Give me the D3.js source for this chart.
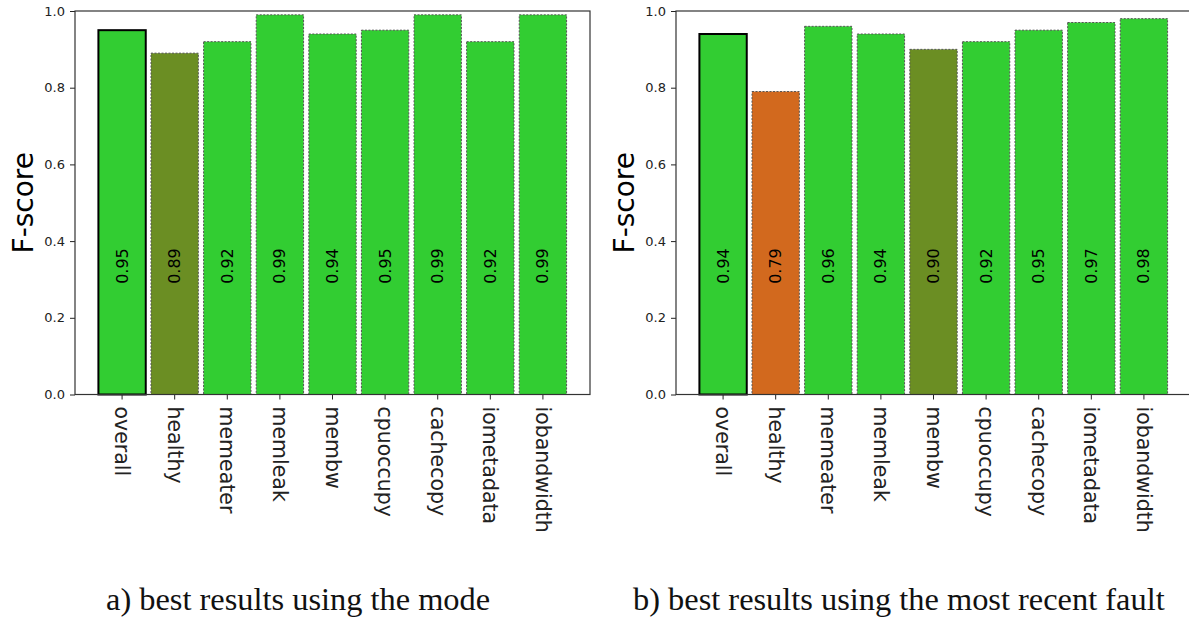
<!DOCTYPE html>
<html lang="en">
<head>
    <meta charset="UTF-8">
    <title>F-score per fault type</title>
    <script src="https://d3js.org/d3.v7.min.js"></script>
    <style>
        body { margin: 0; background: #fff; overflow: hidden; }
        svg { display: block; }
        .tick text { font-family: "DejaVu Sans", sans-serif; fill: #222; }
        .caption { font-family: "Liberation Serif", "DejaVu Serif", serif; font-size: 32.4px; fill: #111; }
    </style>
</head>
<body>
<div id="chart"></div>
<script>
    // categories on the x axis (same for both panels)
    const categories = ["overall", "healthy", "memeater", "memleak", "membw",
                        "cpuoccupy", "cachecopy", "iometadata", "iobandwidth"];

    // F-score values
    const modeScores   = [0.95, 0.89, 0.92, 0.99, 0.94, 0.95, 0.99, 0.92, 0.99];
    const recentScores = [0.94, 0.79, 0.96, 0.94, 0.90, 0.92, 0.95, 0.97, 0.98];

    const yTicks = [0, 0.2, 0.4, 0.6, 0.8, 1.0];

    const captions = ["a) best results using the mode",
                      "b) best results using the most recent fault"];

    // colour by score band
    const color = d3.scaleThreshold()
        .domain([0.8, 0.91])
        .range(["#D2691E", "#6B8E23", "#32CD32"]);

    const svg = d3.select("#chart").append("svg")
        .attr("width", 1189)
        .attr("height", 620);

    const plotW = 515, plotTop = 11, plotBottom = 394.5;

    function drawPanel(x0, scores, caption, captionX) {
        const g = svg.append("g");

        const x = d3.scaleBand()
            .domain(categories)
            .range([x0, x0 + plotW])
            .paddingInner(0.1)
            .paddingOuter(0.445);

        const y = d3.scaleLinear()
            .domain([0, 1])
            .range([plotBottom, plotTop]);

        const data = categories.map((c, i) => ({name: c, value: scores[i]}));

        // bars
        g.selectAll("rect.bar")
            .data(data)
            .enter().append("rect")
            .attr("class", "bar")
            .attr("x", d => x(d.name))
            .attr("y", d => y(d.value))
            .attr("width", x.bandwidth())
            .attr("height", d => y(0) - y(d.value))
            .attr("fill", d => color(d.value))
            .attr("stroke", (d, i) => i === 0 ? "#000" : "#555")
            .attr("stroke-width", (d, i) => i === 0 ? 2 : 1)
            .attr("stroke-dasharray", (d, i) => i === 0 ? null : "2,1.5");

        // value labels inside the bars
        g.selectAll("text.val")
            .data(data)
            .enter().append("text")
            .attr("class", "val")
            .attr("transform", d => `translate(${x(d.name) + x.bandwidth() / 2},${y(0.335)}) rotate(-90)`)
            .attr("text-anchor", "middle")
            .attr("dominant-baseline", "central")
            .style("font-family", "DejaVu Sans, sans-serif")
            .style("font-size", "16px")
            .attr("fill", "#000")
            .text(d => d.value.toFixed(2));

        // y axis
        const yAxis = g.append("g")
            .attr("transform", `translate(${x0},0)`)
            .call(d3.axisLeft(y).tickValues(yTicks).tickFormat(d3.format(".1f")).tickSize(5).tickPadding(5));
        yAxis.select(".domain").remove();
        yAxis.selectAll(".tick line").attr("stroke", "#222");
        yAxis.selectAll(".tick text").style("font-size", "13px");

        // x axis with rotated category names
        const xAxis = g.append("g")
            .attr("transform", `translate(0,${plotBottom})`)
            .call(d3.axisBottom(x).tickSize(5).tickPadding(0));
        xAxis.select(".domain").remove();
        xAxis.selectAll(".tick line").attr("stroke", "#222");
        xAxis.selectAll(".tick text")
            .style("font-size", "20.5px")
            .attr("transform", "translate(0,12) rotate(90)")
            .attr("x", 0)
            .attr("y", 0)
            .attr("dy", null)
            .attr("text-anchor", "start")
            .attr("dominant-baseline", "central");

        // axes box
        g.append("rect")
            .attr("x", x0)
            .attr("y", plotTop)
            .attr("width", plotW)
            .attr("height", plotBottom - plotTop)
            .attr("fill", "none")
            .attr("stroke", "#333")
            .attr("stroke-width", 1.2);

        // y label
        g.append("text")
            .attr("transform", `translate(${x0 - 42},${(plotTop + plotBottom) / 2}) rotate(-90)`)
            .attr("text-anchor", "middle")
            .style("font-family", "DejaVu Sans, sans-serif")
            .style("font-size", "28px")
            .attr("fill", "#000")
            .text("F-score");

        // caption
        svg.append("text")
            .attr("class", "caption")
            .attr("x", captionX)
            .attr("y", 610)
            .text(caption);
    }

    drawPanel(75, modeScores, captions[0], 106);
    drawPanel(676, recentScores, captions[1], 633);
</script>
</body>
</html>
